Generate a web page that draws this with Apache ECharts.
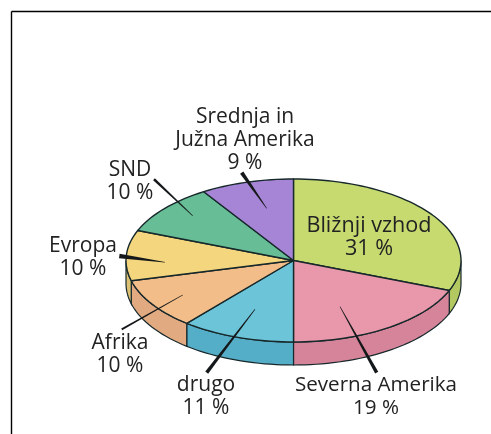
<!DOCTYPE html>
<html>
<head>
<meta charset="utf-8">
<style>
  html, body { margin: 0; padding: 0; background: #fff; }
  #chart { width: 491px; height: 434px; }
</style>
<script src="https://cdn.jsdelivr.net/npm/echarts@6/dist/echarts.min.js"></script>
</head>
<body>
<div id="chart"></div>
<script>
// Deleži po regijah, v smeri urinega kazalca od vrha
const regions = ["Bližnji vzhod", "Severna Amerika", "drugo", "Afrika", "Evropa", "SND", "Srednja in Južna Amerika"];
const shares = [31, 19, 11, 10, 10, 10, 9];
const topColors = ["#c6da70", "#e898aa", "#6cc4d8", "#f2bd88", "#f4d67e", "#66bd96", "#a684d6"];
const sideColors = ["#b3c860", "#d6849a", "#55aec8", "#e2aa80", "#dcc272", "#55a884", "#9070c0"];

// Geometrija nagnjene torte
const cx = 293.5, cy = 260.5, rx = 167.5, ry = 81.5, depth = 23;
const ink = "#17282b";
const fontName = "'Open Sans', sans-serif";

const total = shares.reduce((s, v) => s + v, 0);

function rimPoint(deg, dy) {
  const r = (deg * Math.PI) / 180;
  return [cx + rx * Math.sin(r), cy - ry * Math.cos(r) + (dy || 0)];
}

function arcPoints(from, to, dy) {
  const pts = [];
  const steps = Math.max(2, Math.ceil(Math.abs(to - from) / 2));
  for (let i = 0; i <= steps; i++) pts.push(rimPoint(from + ((to - from) * i) / steps, dy));
  return pts;
}

function renderSlice(params, api) {
  const idx = params.dataIndex;
  let before = 0;
  for (let i = 0; i < idx; i++) before += shares[i];
  const start = (before / total) * 360;
  const end = ((before + api.value(0)) / total) * 360;
  const children = [];

  // Stranska stena je vidna samo na sprednji polovici
  const wallFrom = Math.max(start, 90);
  const wallTo = Math.min(end, 270);
  if (wallTo > wallFrom) {
    children.push({
      type: "polygon",
      shape: { points: arcPoints(wallFrom, wallTo, 0).concat(arcPoints(wallTo, wallFrom, depth)) },
      style: { fill: sideColors[idx], stroke: ink, lineWidth: 1.2 },
    });
  }
  children.push({
    type: "polygon",
    shape: { points: [[cx, cy]].concat(arcPoints(start, end, 0)) },
    style: { fill: topColors[idx], stroke: ink, lineWidth: 1.4, lineJoin: "round" },
  });
  return { type: "group", children };
}

// Napisi: besedilo, sredina x, sredina y prve vrstice, velikost
const labelPlaces = [
  ["Srednja in\nJužna Amerika\n9 %", 245, 117, 21],
  ["SND\n10 %", 130, 170, 21],
  ["Evropa\n10 %", 83, 246, 21],
  ["Afrika\n10 %", 120, 343, 21],
  ["drugo\n11 %", 206, 385, 21],
  ["Severna Amerika\n19 %", 376, 385, 20.6],
  ["Bližnji vzhod\n31 %", 369, 226, 21.6],
];
const lineHeight = 23;

// Kazalne črte: zunanji konec, notranji konec, debelina zunaj
const leaders = [
  [241.7, 172.7, 266.7, 208.3, 4],
  [154, 179.3, 192.7, 215.7, 2.6],
  [119.3, 256, 165, 262.3, 4.4],
  [121.7, 329.3, 182.7, 295, 1.9],
  [206.7, 372.7, 255, 309.3, 3.6],
  [376.7, 372.7, 340, 306.7, 3.6],
];

function leaderShape(l) {
  const [x1, y1, x2, y2, w] = l;
  const len = Math.hypot(x2 - x1, y2 - y1);
  const nx = -(y2 - y1) / len, ny = (x2 - x1) / len;
  const tip = 0.3;
  return {
    type: "polygon",
    z: 100,
    shape: {
      points: [
        [x1 + (nx * w) / 2, y1 + (ny * w) / 2],
        [x2 + nx * tip, y2 + ny * tip],
        [x2 - nx * tip, y2 - ny * tip],
        [x1 - (nx * w) / 2, y1 - (ny * w) / 2],
      ],
    },
    style: { fill: "#15181a" },
  };
}

const graphics = [
  // Okvir slike
  { type: "line", z: 90, shape: { x1: 11.5, y1: 11.5, x2: 491, y2: 11.5 }, style: { stroke: "#000", lineWidth: 1.4 } },
  { type: "line", z: 90, shape: { x1: 11.5, y1: 11.5, x2: 11.5, y2: 434 }, style: { stroke: "#000", lineWidth: 1.4 } },
]
  .concat(leaders.map(leaderShape))
  .concat(
    labelPlaces.map((p) => ({
      type: "text",
      z: 110,
      x: p[1],
      y: p[2] - lineHeight / 2,
      style: {
        text: p[0],
        fill: "#222",
        font: p[3] + "px " + fontName,
        lineHeight: lineHeight,
        align: "center",
        verticalAlign: "top",
      },
    }))
  );

const chart = echarts.init(document.getElementById("chart"), null, { renderer: "canvas" });
chart.setOption({
  animation: false,
  backgroundColor: "#fff",
  graphic: graphics,
  series: [
    {
      type: "custom",
      coordinateSystem: "none",
      renderItem: renderSlice,
      data: shares.map((v, i) => ({ name: regions[i], value: [v] })),
      silent: true,
    },
  ],
});
</script>
</body>
</html>
